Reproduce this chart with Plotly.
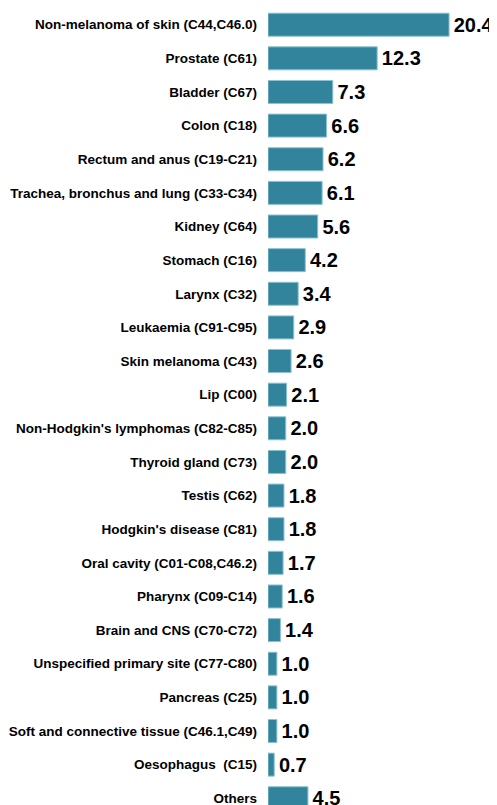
import plotly.graph_objects as go

categories = [
    "Non-melanoma of skin (C44,C46.0)",
    "Prostate (C61)",
    "Bladder (C67)",
    "Colon (C18)",
    "Rectum and anus (C19-C21)",
    "Trachea, bronchus and lung (C33-C34)",
    "Kidney (C64)",
    "Stomach (C16)",
    "Larynx (C32)",
    "Leukaemia (C91-C95)",
    "Skin melanoma (C43)",
    "Lip (C00)",
    "Non-Hodgkin's lymphomas (C82-C85)",
    "Thyroid gland (C73)",
    "Testis (C62)",
    "Hodgkin's disease (C81)",
    "Oral cavity (C01-C08,C46.2)",
    "Pharynx (C09-C14)",
    "Brain and CNS (C70-C72)",
    "Unspecified primary site (C77-C80)",
    "Pancreas (C25)",
    "Soft and connective tissue (C46.1,C49)",
    "Oesophagus  (C15)",
    "Others",
]
values = [20.4, 12.3, 7.3, 6.6, 6.2, 6.1, 5.6, 4.2, 3.4, 2.9, 2.6, 2.1, 2.0, 2.0,
          1.8, 1.8, 1.7, 1.6, 1.4, 1.0, 1.0, 1.0, 0.7, 4.5]

fig = go.Figure(go.Bar(
    x=values,
    y=categories,
    orientation="h",
    marker=dict(color="#31849B", line=dict(color="#8cc3d1", width=1)),
    width=0.684,
    text=values,
    texttemplate="\u200a%{x:.1f}",
    textposition="outside",
    textfont=dict(family="Liberation Sans, Arial, sans-serif", size=20, color="#000000", weight="bold"),
    cliponaxis=False,
))

fig.update_layout(
    width=489,
    height=797,
    margin=dict(l=260, r=0, t=0, b=0, autoexpand=False),
    plot_bgcolor="white",
    paper_bgcolor="white",
    showlegend=False,
    uniformtext=dict(minsize=20, mode="show"),
    font=dict(family="Liberation Sans, Arial, sans-serif", color="#000000"),
)
fig.update_xaxes(range=[0, 25.8], visible=False, showgrid=False, zeroline=False, automargin=False)
fig.update_yaxes(
    categoryorder="array",
    categoryarray=categories,
    range=[23.20, -0.497],
    automargin=False,
    showgrid=False,
    zeroline=False,
    showline=False,
    ticks="",
    ticklabelstandoff=10,
    tickfont=dict(family="Liberation Sans, Arial, sans-serif", size=13.5, color="#000000", weight="bold"),
)

fig.write_html("out.html")
